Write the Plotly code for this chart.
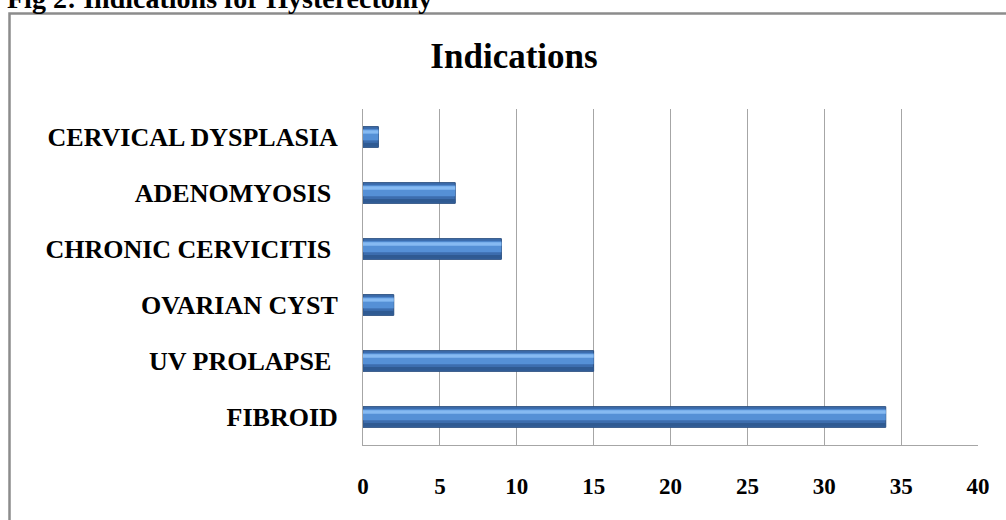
import plotly.graph_objects as go

# ---- data ----
categories = ["FIBROID", "UV PROLAPSE ", "OVARIAN CYST", "CHRONIC CERVICITIS ", "ADENOMYOSIS ", "CERVICAL DYSPLASIA"]
values = [34, 15, 2, 9, 6, 1]
x_ticks = [0, 5, 10, 15, 20, 25, 30, 35, 40]
chart_title = "Indications"
fig_caption = "Fig 2: Indications for Hysterectomy"

# tick text: keep the trailing space of the source labels (non-breaking so it is not collapsed)
tick_text = [c.rstrip() + "\u00a0" if c.endswith(" ") else c for c in categories]

W, H = 1006, 520
L, R, T, B = 363, W - 978, 109, H - 445
pw, ph = W - L - R, H - T - B

def px_to_paper_x(px):
    return (px - L) / pw

def px_to_paper_y(py):
    return (H - B - py) / ph

fig = go.Figure()
# base bar
fig.add_trace(go.Bar(
    y=categories, x=values, orientation="h",
    width=0.37, offset=-0.185,
    marker=dict(color="#3C6DAE", line=dict(color="#2B4F80", width=1)),
    hoverinfo="x+y", showlegend=False,
))
# dark lower edge
fig.add_trace(go.Bar(
    y=categories, x=values, orientation="h",
    width=0.07, offset=-0.175,
    marker=dict(color="#2F5A92", line=dict(width=0)),
    hoverinfo="skip", showlegend=False,
))
# lighter body
fig.add_trace(go.Bar(
    y=categories, x=values, orientation="h",
    width=0.2, offset=-0.06,
    marker=dict(color="#5590D6", line=dict(width=0)),
    hoverinfo="skip", showlegend=False,
))
# highlight
fig.add_trace(go.Bar(
    y=categories, x=values, orientation="h",
    width=0.06, offset=0.06,
    marker=dict(color="#86BAF2", line=dict(width=0)),
    hoverinfo="skip", showlegend=False,
))

fig.update_layout(
    width=W, height=H,
    margin=dict(l=L, r=R, t=T, b=B),
    paper_bgcolor="white", plot_bgcolor="white",
    barmode="overlay",
    title=dict(
        text=chart_title, x=514 / W, xanchor="center",
        y=1 - 56 / H, yanchor="middle",
        font=dict(family="Liberation Serif", size=35, color="black", weight="bold"),
    ),
    xaxis=dict(
        range=[0, 40], tickvals=x_ticks, ticktext=[str(v) for v in x_ticks],
        showgrid=True, gridcolor="#A6A6A6", gridwidth=1,
        showline=True, linecolor="#A6A6A6", linewidth=1,
        zeroline=False, ticks="outside", ticklen=4, tickcolor="rgba(0,0,0,0)",
        ticklabelstandoff=16,
        tickfont=dict(family="Liberation Serif", size=23, color="black", weight="bold"),
        fixedrange=True,
    ),
    yaxis=dict(
        categoryorder="array", categoryarray=categories,
        tickvals=categories, ticktext=tick_text,
        range=[-0.5, 5.5],
        showgrid=False, showline=True, linecolor="#A6A6A6", linewidth=1,
        zeroline=False, ticks="outside", ticklen=19, tickcolor="rgba(0,0,0,0)",
        tickfont=dict(family="Liberation Serif", size=26, color="black", weight="bold"),
        fixedrange=True,
    ),
    shapes=[
        dict(type="rect", xref="paper", yref="paper",
             x0=px_to_paper_x(9.5), x1=px_to_paper_x(1030),
             y0=px_to_paper_y(560), y1=px_to_paper_y(13.5),
             line=dict(color="#8C8C8C", width=2.5), fillcolor="rgba(0,0,0,0)",
             layer="below"),
    ],
    annotations=[
        dict(text=fig_caption, xref="paper", yref="paper",
             x=px_to_paper_x(5), xanchor="left",
             y=px_to_paper_y(-2), yanchor="middle",
             showarrow=False,
             font=dict(family="Liberation Serif", size=28, color="black", weight="bold")),
    ],
)

fig.write_html("out.html", config={"displayModeBar": False},
               post_script="document.body.style.margin='0';")
